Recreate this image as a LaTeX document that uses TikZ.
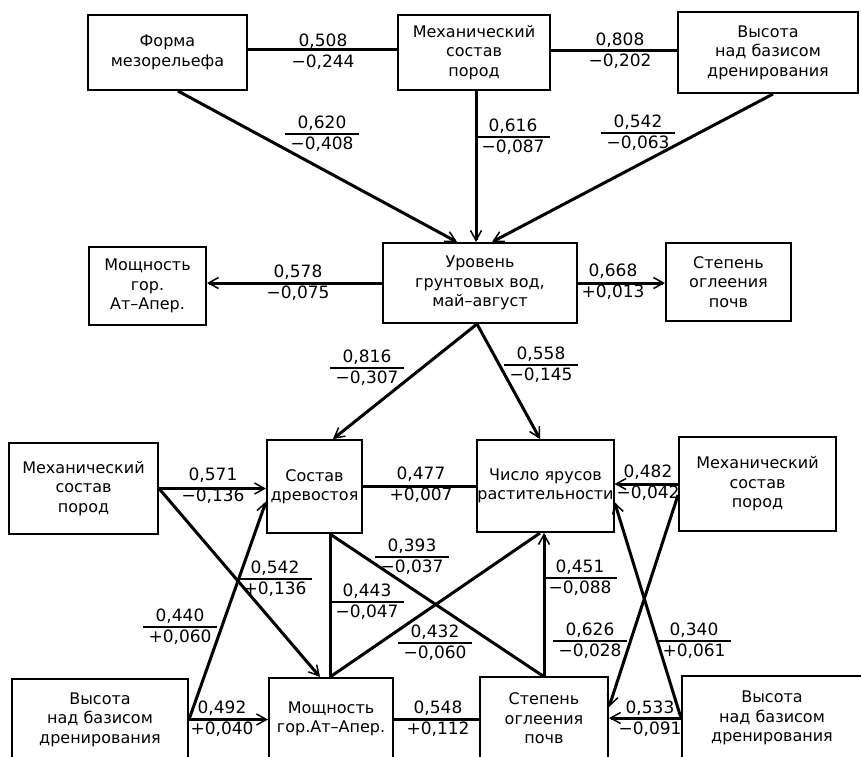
\documentclass[tikz,border=0pt]{standalone}
\usepackage{fontspec}
\setmainfont{DejaVu Sans}
\usetikzlibrary{arrows.meta}
\begin{document}
\begin{tikzpicture}[x=1pt,y=-1pt,
  box/.style={draw, line width=2pt, align=center, inner sep=0pt,
    font=\fontsize{16}{19.5}\selectfont},
  link/.style={line width=3pt},
  arr/.style={link, -{Straight Barb[length=10pt,width=11pt,line width=1.5pt]}},
  num/.style={align=center, inner sep=1pt, font=\fontsize{17}{21}\selectfont},
  frac/.style={num, inner xsep=5pt},
  bar/.style={line width=1.1pt}]
\useasboundingbox (0,0) rectangle (861,756);

% factor boxes
\node[box, minimum width=159pt, minimum height=75pt] (forma)  at (167.5,52.5) {Форма\\мезорельефа};
\node[box, minimum width=152pt, minimum height=75pt] (mechT)  at (474,52.5)   {Механический\\состав\\пород};
\node[box, minimum width=180pt, minimum height=81pt] (vysT)   at (768,52.5)   {Высота\\над базисом\\дренирования};
\node[box, minimum width=194pt, minimum height=80pt] (urov)   at (480,283)    {Уровень\\грунтовых вод,\\май–август};
\node[box, minimum width=117pt, minimum height=78pt] (moshM)  at (147.5,286)  {Мощность\\гор.\\Ат–Апер.};
\node[box, minimum width=125pt, minimum height=78pt] (stepM)  at (728.5,282)  {Степень\\оглеения\\почв};
\node[box, minimum width=149pt, minimum height=91pt] (mechL)  at (83.5,488.5) {Механический\\состав\\пород};
\node[box, minimum width=95pt,  minimum height=93pt] (sostav) at (314.5,486.5){Состав\\древостоя};
\node[box, minimum width=133pt, minimum height=92pt] (chislo) at (545.5,486)  {Число ярусов\\растительности};
\node[box, minimum width=157pt, minimum height=94pt] (mechR)  at (757.5,484)  {Механический\\состав\\пород};
\node[box, minimum width=176pt, minimum height=81pt] (vysL)   at (100,719.5)  {Высота\\над базисом\\дренирования};
\node[box, minimum width=124pt, minimum height=82pt] (moshB)  at (331,719)    {Мощность\\гор.Ат–Апер.};
\node[box, minimum width=128pt, minimum height=83pt] (stepB)  at (544,718.5)  {Степень\\оглеения\\почв};
\node[box, minimum width=180pt, minimum height=84pt] (vysR)   at (772,718)    {Высота\\над базисом\\дренирования};

% links
\draw[link] ([yshift=3pt]forma.east) -- ([yshift=3pt]forma.east -| mechT.west);
\draw[link] ([yshift=2pt]mechT.east) -- ([yshift=2pt]mechT.east -| vysT.west);
\draw[arr] ([xshift=10.5pt]forma.south) -- ([xshift=-23pt]urov.north);
\draw[arr] ([xshift=2pt]mechT.south) -- ([xshift=2pt]mechT.south |- urov.north);
\draw[arr] ([xshift=5pt]vysT.south) -- ([xshift=12pt]urov.north);
\draw[arr] (urov.west) -- (urov.west -| moshM.east);
\draw[arr] (urov.east) -- (urov.east -| stepM.west);
\draw[arr] ([xshift=-3pt]urov.south) -- ([xshift=18.5pt]sostav.north);
\draw[arr] ([xshift=-3pt]urov.south) -- ([xshift=-5.5pt]chislo.north);
\draw[arr] (mechL.east) -- (mechL.east -| sostav.west);
\draw[link] (sostav.east) -- (sostav.east -| chislo.west);
\draw[arr] (mechR.west) -- (mechR.west -| chislo.east);
\draw[arr] (mechL.east) -- ([xshift=-11pt]moshB.north);
\draw[arr] (vysL.east) -- ([yshift=-15pt]sostav.west);
\draw[arr] (vysL.east) -- (vysL.east -| moshB.west);
\coordinate (sb) at ([xshift=15.5pt]sostav.south);
\coordinate (mt) at (sb |- moshB.north);
\draw[link] (sb) -- (mt);
\draw[link] (sb) -- ([xshift=-1pt]stepB.north);
\draw[link] (mt) -- ([xshift=-5.5pt]chislo.south);
\draw[arr] (stepB.north) -- (stepB.north |- chislo.south);
\draw[arr] ([yshift=-11pt]mechR.west) -- ([yshift=11.5pt]stepB.east);
\draw[arr] (vysR.west) -- ([yshift=-16pt]chislo.east);
\draw[arr] (vysR.west) -- (vysR.west -| stepB.east);
\draw[link] (moshB.east) -- (moshB.east -| stepB.west);

% coefficients on horizontal links
\node[num] (n1)  at (323,52)  {0,508\\−0,244};
\node[num] (n2)  at (620,51)  {0,808\\−0,202};
\node[num] (n6)  at (298,283) {0,578\\−0,075};
\node[num] (n7)  at (613,282) {0,668\\+0,013};
\node[num] (n10) at (213,486) {0,571\\−0,136};
\node[num] (n11) at (421,485) {0,477\\+0,007};
\node[num] (n12) at (648,483) {0,482\\−0,042};
\node[num] (n15) at (222,719) {0,492\\+0,040};
\node[num] (n22) at (650,719) {0,533\\−0,091};
\node[num] (n23) at (438,719) {0,548\\+0,112};

% coefficients on slanted links, written as fractions
\foreach \nm/\px/\py/\up/\dn in {
  n3/322/134/{0,620}/{−0,408},
  n4/513/137/{0,616}/{−0,087},
  n5/638/133/{0,542}/{−0,063},
  n8/367/368/{0,816}/{−0,307},
  n9/541/365/{0,558}/{−0,145},
  n13/275/579/{0,542}/{+0,136},
  n14/180/627/{0,440}/{+0,060},
  n16/367/602/{0,443}/{−0,047},
  n17/412/557/{0,393}/{−0,037},
  n18/435/643/{0,432}/{−0,060},
  n19/580/578/{0,451}/{−0,088},
  n20/590/641/{0,626}/{−0,028},
  n21/694/641/{0,340}/{+0,061}}{
  \node[frac] (\nm) at (\px,\py) {\up\\\dn};
  \draw[bar] (\nm.west) -- (\nm.east);
}
\end{tikzpicture}
\end{document}
